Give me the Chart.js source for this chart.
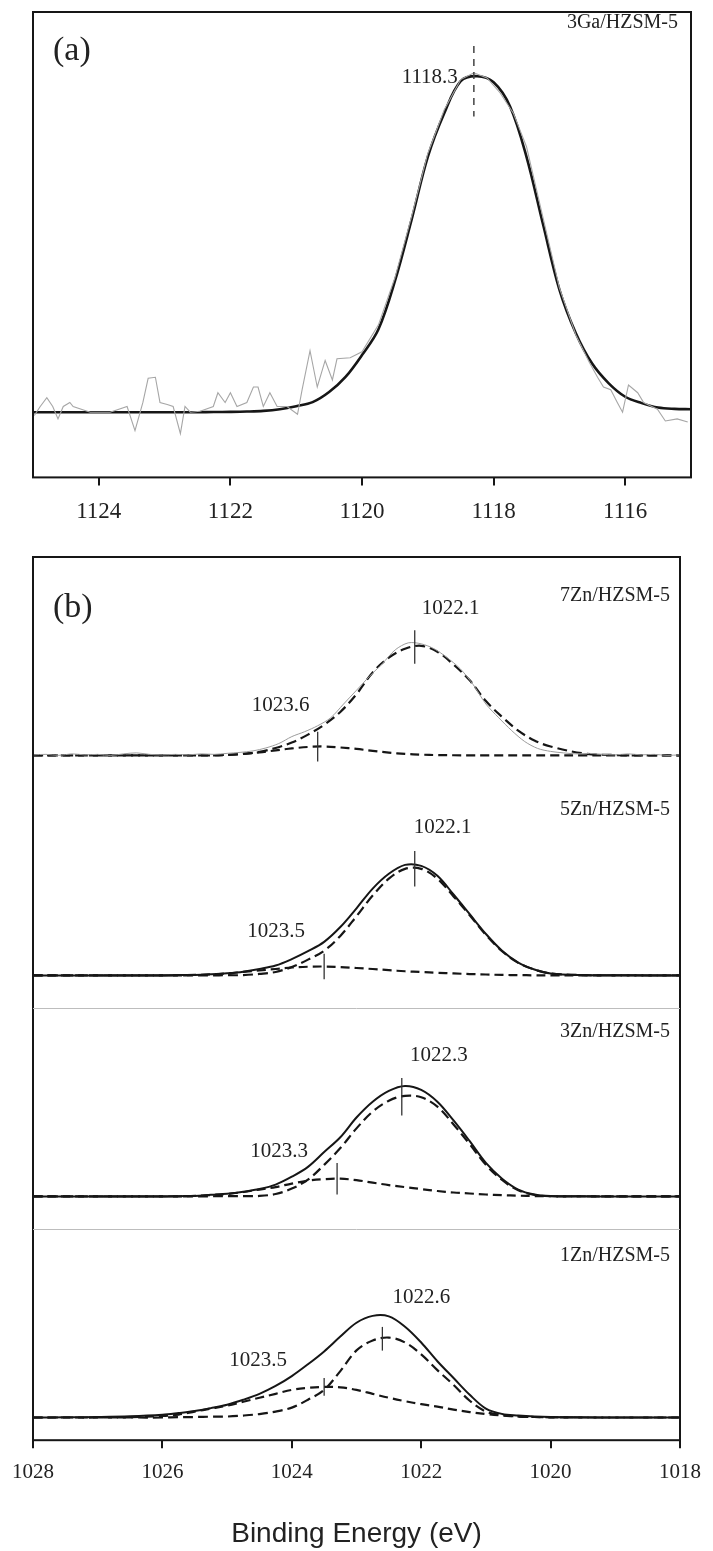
<!DOCTYPE html>
<html>
<head>
<meta charset="utf-8">
<script src="https://cdn.jsdelivr.net/npm/chart.js@4.4.1/dist/chart.umd.min.js"></script>
<style>
  html, body { margin: 0; padding: 0; background: #fff; }
  #wrapA { position: absolute; left: 0; top: 0; }
  #wrapB { position: absolute; left: 0; top: 545px; }
</style>
</head>
<body>
<div id="wrapA"><canvas id="chartA" width="713" height="545"></canvas></div>
<div id="wrapB"><canvas id="chartB" width="713" height="1006"></canvas></div>
<script>
// ---- (a) Ga 2p, 3Ga/HZSM-5 ----
const energyA = [1125, 1124.75, 1124.5, 1124.25, 1124, 1123.75, 1123.5, 1123.25, 1123, 1122.75, 1122.5, 1122.25, 1122, 1121.75, 1121.5, 1121.25, 1121, 1120.75, 1120.5, 1120.25, 1120, 1119.75, 1119.5, 1119.25, 1119, 1118.75, 1118.5, 1118.25, 1118, 1117.75, 1117.5, 1117.25, 1117, 1116.75, 1116.5, 1116.25, 1116, 1115.75, 1115.5, 1115.25, 1115];
const fitA = [0, 0, 0, 0, 0, 0, 0, 0, 0, 0, 0, 0.05, 0.1, 0.2, 0.4, 0.9, 1.8, 3, 6, 10.5, 17, 24.7, 39, 57, 76, 89, 98.5, 100, 98.2, 91, 76, 56, 36.5, 23.5, 14.4, 8.6, 4.6, 2.7, 1.4, 1.0, 0.9];
const rawEnergyA = [1124.98, 1124.89, 1124.79, 1124.70, 1124.62, 1124.54, 1124.44, 1124.39, 1124.13, 1123.83, 1123.57, 1123.45, 1123.33, 1123.25, 1123.14, 1123.07, 1122.96, 1122.87, 1122.76, 1122.69, 1122.61, 1122.46, 1122.26, 1122.19, 1122.08, 1122.00, 1121.90, 1121.75, 1121.65, 1121.58, 1121.50, 1121.40, 1121.29, 1121.14, 1120.98, 1120.91, 1120.79, 1120.68, 1120.56, 1120.45, 1120.38, 1120.18, 1120.0, 1119.75, 1119.5, 1119.25, 1119.0, 1118.75, 1118.5, 1118.3, 1118.1, 1117.9, 1117.7, 1117.5, 1117.25, 1117.0, 1116.75, 1116.55, 1116.42, 1116.33, 1116.22, 1116.12, 1116.04, 1115.95, 1115.81, 1115.72, 1115.51, 1115.39, 1115.21, 1115.05];
const rawA = [-1, 1.7, 4.3, 1.7, -2.0, 1.7, 2.9, 1.7, 0, 0, 1.7, -5.5, 2.9, 10.1, 10.4, 2.9, 2.3, 1.7, -6.4, 1.7, 0, 0.3, 1.7, 5.8, 2.9, 5.8, 1.7, 2.9, 7.5, 7.5, 1.7, 5.8, 1.7, 1.7, -0.6, 6.7, 18.3, 7.5, 15.4, 9.6, 15.9, 16.2, 18, 26, 40, 58, 77, 90, 99, 101, 99.5, 95, 89, 79, 58, 37, 23, 15, 10.4, 7.5, 6.7, 2.9, 0, 8.1, 5.8, 2.9, 0.9, -2.6, -2.0, -2.9];
const peakA = 1118.3;
const tickA = [1124, 1122, 1120, 1118, 1116];

// ---- (b) Zn 2p, xZn/HZSM-5 ----
const samples = ['7Zn/HZSM-5', '5Zn/HZSM-5', '3Zn/HZSM-5', '1Zn/HZSM-5'];
const offsets = [694, 471, 247, 23];
const energyB = [1028, 1027.5, 1027, 1026.5, 1026, 1025.75, 1025.5, 1025.25, 1025, 1024.75, 1024.5, 1024.25, 1024, 1023.75, 1023.5, 1023.25, 1023, 1022.75, 1022.5, 1022.25, 1022, 1021.75, 1021.5, 1021.25, 1021, 1020.75, 1020.5, 1020.25, 1020, 1019.5, 1019, 1018.5, 1018];
const envelope = [
  null,
  [0, 0, 0, 0, 0, 0.3, 0.5, 1.2, 2.2, 3.8, 6.5, 10, 16.5, 24.5, 34, 49, 68, 88, 103, 112, 111, 101, 82, 62, 42, 25, 13, 6, 2, 0.3, 0.1, 0, 0],
  [0, 0, 0, 0, 0, 0.3, 0.5, 1.7, 2.8, 4.8, 7.5, 12, 20, 30, 45, 60, 80, 96, 107, 112, 108, 96, 77, 56, 34, 18, 7, 2, 0.5, 0.2, 0, 0, 0],
  [0, 0.2, 0.5, 1.2, 2.8, 4.5, 6.5, 9.5, 13, 18, 24, 32, 42, 54, 67, 82, 96, 103, 102.5, 92, 76, 57, 40, 23, 9, 3.6, 2, 1, 0.5, 0.2, 0, 0, 0]
];
const mainComp = [
  [0, 0, 0, 0, 0, 0, 0, 0, 0.5, 1.5, 3.5, 7.5, 13, 21, 31, 44, 62, 84, 99, 108, 111, 105, 92, 76, 55, 39, 25, 15, 9, 2, 0.3, 0, 0],
  [0, 0, 0, 0, 0, 0, 0, 0, 0.2, 0.3, 1.5, 3.5, 8.5, 16, 25, 40, 60, 81, 98, 108, 108, 98, 80, 61, 41, 24.5, 12.7, 6, 2, 0.3, 0.1, 0, 0],
  [0, 0, 0, 0, 0, 0, 0, 0.2, 0.3, 0.3, 0.5, 2.5, 8, 17, 32, 49, 69, 86, 97, 102, 100.5, 91, 73, 53, 32, 16.7, 6.2, 1.6, 0.3, 0.2, 0, 0, 0],
  [0, 0, 0, 0, 0, 0.3, 0.5, 0.8, 1, 2, 3.5, 6, 10, 18, 28, 47, 68, 78, 81, 76, 64, 48, 33, 17, 6, 2.5, 1, 0.5, 0.2, 0, 0, 0, 0]
];
const minorComp = [
  [0, 0, 0, 0, 0, 0, 0, 0, 0.5, 1.5, 3, 5, 7, 8.5, 9, 8, 6.5, 4.5, 2.8, 1.5, 0.7, 0.3, 0.1, 0, 0, 0, 0, 0, 0, 0, 0, 0, 0],
  [0, 0, 0, 0, 0, 0, 0.5, 1, 2, 3.5, 5, 6.5, 8, 8.8, 9, 8.5, 7.5, 6.5, 5.3, 4.2, 3.4, 2.6, 2, 1.4, 0.9, 0.5, 0.3, 0.1, 0, 0, 0, 0, 0],
  [0, 0, 0, 0, 0, 0, 0.5, 1.5, 2.5, 4.5, 7, 9.5, 13, 16, 17.5, 18, 16.5, 14, 11.5, 9.5, 7.5, 5.5, 4, 3, 2, 1.3, 0.8, 0.4, 0.2, 0, 0, 0, 0],
  [0, 0, 0, 0.3, 1.5, 3, 6, 9, 12, 16, 20, 24, 28, 30, 31, 30.5, 28, 24, 20, 16.5, 13.5, 11, 8, 5.5, 3.5, 2, 1, 0.5, 0.2, 0, 0, 0, 0]
];
const peakMain = [1022.1, 1022.1, 1022.3, 1022.6];
const peakMinor = [1023.6, 1023.5, 1023.3, 1023.5];
const energyRaw7 = [1028, 1027.8, 1027.6, 1027.4, 1027.2, 1027, 1026.8, 1026.6, 1026.4, 1026.2, 1026, 1025.8, 1025.6, 1025.4, 1025.2, 1025, 1024.8, 1024.6, 1024.4, 1024.2, 1024, 1023.8, 1023.6, 1023.4, 1023.2, 1023, 1022.8, 1022.6, 1022.4, 1022.2, 1022, 1021.8, 1021.6, 1021.4, 1021.2, 1021, 1020.8, 1020.6, 1020.4, 1020.2, 1020, 1019.8, 1019.6, 1019.4, 1019.2, 1019, 1018.8, 1018.6, 1018.4, 1018.2, 1018];
const raw7 = [0.5, 1, 0, 1.5, 0.5, 1, 0, 1.5, 2.5, 1, 0.5, 1, 0.5, 1.5, 1, 2, 3, 4.5, 7.5, 12, 19, 24, 30, 38, 52, 66, 80, 93, 107, 114, 113, 108, 99, 88, 72, 52, 38, 25, 14, 7, 4, 2.5, 1.5, 2, 1, 0.5, 1.5, 0.5, 1, 0, 0.5];
const tickB = [1028, 1026, 1024, 1022, 1020, 1018];

// layout of annotations (pixel offsets, text baselines above each spectrum baseline)
const markerHalf = [[17, 15], [18, 13], [19, 16], [12, 9]];
const labelPos = [[[36, 143], [-37, 45]], [[28, 144], [-48, 39]], [[37, 137], [-58, 40]], [[39, 116], [-66, 52]]];
const nameRise = [156, 163, 162, 159];

const INK = '#161616';
const serif = '"Liberation Serif", "Times New Roman", serif';

function pts(xs, ys, off) {
  return xs.map((e, i) => ({ x: e, y: ys[i] + (off || 0) }));
}
function valueAt(arr, e) {
  for (let i = 0; i < energyB.length - 1; i++) {
    const a = energyB[i], b = energyB[i + 1];
    if (e <= a && e >= b) return arr[i] + (arr[i + 1] - arr[i]) * (a - e) / (a - b);
  }
  return 0;
}
function seg(ctx, x1, y1, x2, y2) {
  ctx.beginPath(); ctx.moveTo(x1, y1); ctx.lineTo(x2, y2); ctx.stroke();
}

function xAxis(min, max, ticks, size, pad) {
  return {
    type: 'linear', reverse: true, min: min, max: max,
    afterBuildTicks: s => { s.ticks = ticks.map(v => ({ value: v })); },
    border: { display: false },
    grid: { drawOnChartArea: false, drawTicks: true, tickLength: 8, color: INK, lineWidth: 2 },
    ticks: { color: '#222', font: { family: serif, size: size }, padding: pad, maxRotation: 0, callback: v => String(v) }
  };
}

const frame = {
  id: 'frame',
  afterDatasetsDraw(chart) {
    const { ctx, chartArea: a } = chart;
    ctx.save();
    ctx.strokeStyle = INK; ctx.lineWidth = 2;
    ctx.strokeRect(a.left, a.top, a.right - a.left, a.bottom - a.top);
    ctx.restore();
  }
};

const annotateA = {
  id: 'annotateA',
  afterDatasetsDraw(chart) {
    const { ctx, chartArea: a, scales: { x, y } } = chart;
    ctx.save();
    const px = x.getPixelForValue(peakA);
    ctx.strokeStyle = '#444'; ctx.lineWidth = 1.5; ctx.setLineDash([7, 6]);
    seg(ctx, px, y.getPixelForValue(109), px, y.getPixelForValue(88));
    ctx.setLineDash([]);
    ctx.fillStyle = '#222'; ctx.textBaseline = 'alphabetic';
    ctx.font = '21px ' + serif; ctx.textAlign = 'right';
    ctx.fillText(peakA.toFixed(1), px - 16, y.getPixelForValue(98));
    ctx.font = '20px ' + serif;
    ctx.fillText('3Ga/HZSM-5', a.right - 13, a.top + 16);
    ctx.font = '34px ' + serif; ctx.textAlign = 'left';
    ctx.fillText('(a)', a.left + 20, a.top + 48);
    ctx.restore();
  }
};

const annotateB = {
  id: 'annotateB',
  afterDatasetsDraw(chart) {
    const { ctx, chartArea: a, scales: { x, y } } = chart;
    ctx.save();
    ctx.strokeStyle = '#bdbdbd'; ctx.lineWidth = 1;
    [1, 2].forEach(i => {
      const py = Math.round(y.getPixelForValue(offsets[i] - 33)) + 0.5;
      seg(ctx, a.left, py, a.right, py);
    });
    ctx.fillStyle = '#222'; ctx.textBaseline = 'alphabetic';
    samples.forEach((name, i) => {
      [[peakMain[i], mainComp[i]], [peakMinor[i], minorComp[i]]].forEach(([e, comp], k) => {
        const h = offsets[i] + valueAt(comp, e);
        const px = x.getPixelForValue(e);
        ctx.strokeStyle = '#333'; ctx.lineWidth = 1.3;
        seg(ctx, px, y.getPixelForValue(h + markerHalf[i][k]), px, y.getPixelForValue(h - markerHalf[i][k]));
        ctx.font = '21px ' + serif; ctx.textAlign = 'center';
        ctx.fillText(e.toFixed(1), px + labelPos[i][k][0], y.getPixelForValue(offsets[i] + labelPos[i][k][1]));
      });
      ctx.font = '20px ' + serif; ctx.textAlign = 'right';
      ctx.fillText(name, a.right - 10, y.getPixelForValue(offsets[i] + nameRise[i]));
    });
    ctx.font = '34px ' + serif; ctx.textAlign = 'left';
    ctx.fillText('(b)', a.left + 20, a.top + 60);
    ctx.restore();
  }
};

const base = {
  responsive: false,
  animation: false,
  events: [],
  elements: { point: { radius: 0 }, line: { fill: false, tension: 0.35 } },
  plugins: { legend: { display: false }, tooltip: { enabled: false } }
};

new Chart(document.getElementById('chartA'), {
  type: 'line',
  data: {
    datasets: [
      { data: pts(rawEnergyA, rawA), borderColor: '#a6a6a6', borderWidth: 1.1, tension: 0 },
      { data: pts(energyA, fitA), borderColor: INK, borderWidth: 2.6 }
    ]
  },
  options: Object.assign({}, base, {
    layout: { padding: { left: 33, right: 22, top: 12, bottom: 6 } },
    scales: {
      x: xAxis(1115, 1125, tickA, 23, 13),
      y: { display: false, min: -19.4, max: 119.1 }
    }
  }),
  plugins: [frame, annotateA]
});

const dsB = [];
dsB.push({ data: pts(energyRaw7, raw7, offsets[0]), borderColor: '#9c9c9c', borderWidth: 1, tension: 0.3 });
samples.forEach((s, i) => {
  dsB.push({ data: pts(energyB, minorComp[i], offsets[i]), borderColor: INK, borderWidth: 2.2, borderDash: [9, 5] });
  dsB.push({ data: pts(energyB, mainComp[i], offsets[i]), borderColor: INK, borderWidth: 2.2, borderDash: [10, 5] });
  if (envelope[i]) {
    dsB.push({ data: pts(energyB, envelope[i], offsets[i]), borderColor: INK, borderWidth: 2 });
  }
});

const xB = xAxis(1018, 1028, tickB, 21, 12);
xB.title = { display: true, text: 'Binding Energy (eV)', color: '#222', font: { family: '"Liberation Sans", Arial, sans-serif', size: 28 }, padding: { top: 20, bottom: 0 } };

new Chart(document.getElementById('chartB'), {
  type: 'line',
  data: { datasets: dsB },
  options: Object.assign({}, base, {
    layout: { padding: { left: 32, right: 27, top: 12, bottom: 0 } },
    scales: {
      x: xB,
      y: { display: false, min: 0, max: 895 }
    }
  }),
  plugins: [frame, annotateB]
});
</script>
</body>
</html>
